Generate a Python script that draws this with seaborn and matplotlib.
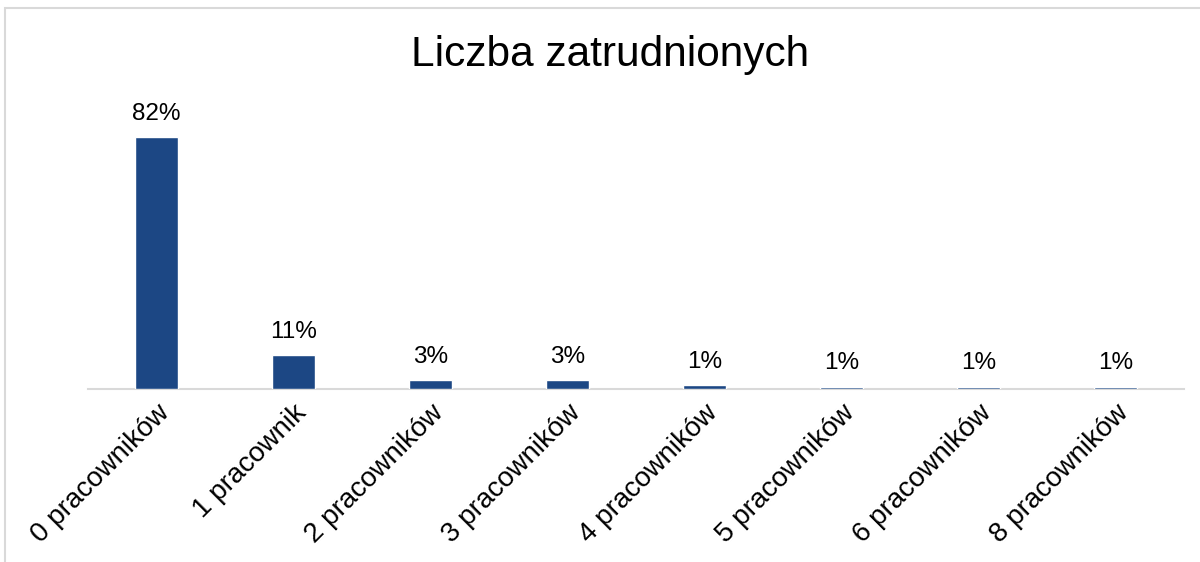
import matplotlib
matplotlib.use("Agg")
import matplotlib.pyplot as plt
import seaborn as sns
import pandas as pd
from matplotlib.patches import Rectangle

categories = ["0 pracowników", "1 pracownik", "2 pracowników", "3 pracowników",
              "4 pracowników", "5 pracowników", "6 pracowników", "8 pracowników"]
shares = [82, 11, 3, 3, 1.3, 0.8, 0.8, 0.8]
title = "Liczba zatrudnionych"

df = pd.DataFrame({"kat": categories, "udzial": shares})

sns.set_theme(style="white")
plt.rcParams['font.family'] = ['Liberation Sans', 'DejaVu Sans']

fig = plt.figure(figsize=(12, 5.62), dpi=100)
ax = fig.add_axes([88 / 1200, 1 - 389 / 562, (1184 - 88) / 1200, 289 / 562])

sns.barplot(data=df, x="kat", y="udzial", color="#1c4784", width=0.31,
            saturation=1, ax=ax, zorder=3)

ax.set_ylim(0, 289 / 3.07)
ax.set_xlim(-0.5, len(categories) - 0.5)
for i, v in enumerate(shares):
    ax.text(i, v + 4, f"{v:.0f}%", ha="center", va="bottom", fontsize=17.5,
            color="black")

ax.set_yticks([])
ax.set_xlabel("")
ax.set_ylabel("")
for s in ["top", "right", "left"]:
    ax.spines[s].set_visible(False)
ax.spines["bottom"].set_color("#d9d9d9")
ax.spines["bottom"].set_linewidth(1.5)
ax.spines["bottom"].set_zorder(1)
ax.tick_params(axis="x", length=0, pad=8)
plt.setp(ax.get_xticklabels(), rotation=45, ha="right", rotation_mode="anchor",
         fontsize=20, color="black")

fig.text(0.508, 1 - 55 / 562, title, ha="center", va="center", fontsize=30.5,
         color="black")

fig.patches.append(Rectangle((5 / 1200, -0.1), 1.2, 1.1 - 8 / 562,
                             transform=fig.transFigure, fill=False,
                             edgecolor="#d9d9d9", linewidth=1.5))

fig.savefig("out.png", dpi=100)
